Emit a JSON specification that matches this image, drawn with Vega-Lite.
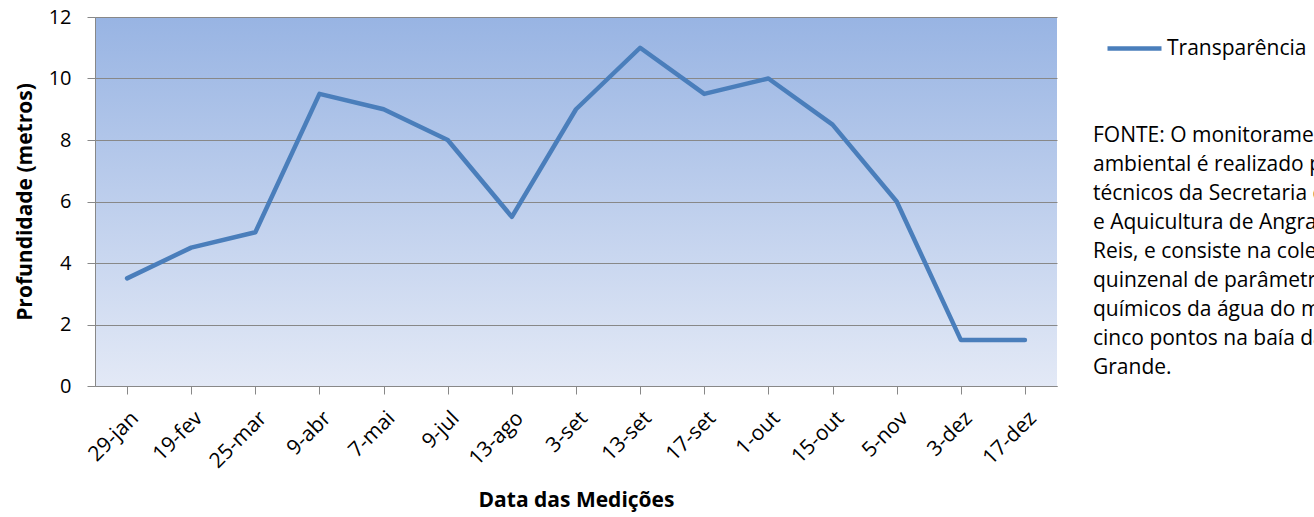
{
  "$schema": "https://vega.github.io/schema/vega-lite/v6.json",
  "padding": {"left": 14, "top": 7, "right": 0, "bottom": 8},
  "background": "white",
  "config": {
    "font": "Open Sans",
    "view": {"stroke": null},
    "concat": {"spacing": 36}
  },
  "datasets": {
    "medicoes": [
      {"data": "29-jan", "profundidade": 3.5, "serie": "Transparência"},
      {"data": "19-fev", "profundidade": 4.5, "serie": "Transparência"},
      {"data": "25-mar", "profundidade": 5, "serie": "Transparência"},
      {"data": "9-abr", "profundidade": 9.5, "serie": "Transparência"},
      {"data": "7-mai", "profundidade": 9, "serie": "Transparência"},
      {"data": "9-jul", "profundidade": 8, "serie": "Transparência"},
      {"data": "13-ago", "profundidade": 5.5, "serie": "Transparência"},
      {"data": "3-set", "profundidade": 9, "serie": "Transparência"},
      {"data": "13-set", "profundidade": 11, "serie": "Transparência"},
      {"data": "17-set", "profundidade": 9.5, "serie": "Transparência"},
      {"data": "1-out", "profundidade": 10, "serie": "Transparência"},
      {"data": "15-out", "profundidade": 8.5, "serie": "Transparência"},
      {"data": "5-nov", "profundidade": 6, "serie": "Transparência"},
      {"data": "3-dez", "profundidade": 1.5, "serie": "Transparência"},
      {"data": "17-dez", "profundidade": 1.5, "serie": "Transparência"}
    ],
    "nota": [
      {"linha": 0, "texto": "FONTE: O monitoramento"},
      {"linha": 1, "texto": "ambiental é realizado por"},
      {"linha": 2, "texto": "técnicos da Secretaria de Pesca"},
      {"linha": 3, "texto": "e Aquicultura de Angra dos"},
      {"linha": 4, "texto": "Reis, e consiste na coleta"},
      {"linha": 5, "texto": "quinzenal de parâmetros físico-"},
      {"linha": 6, "texto": "químicos da água do mar em"},
      {"linha": 7, "texto": "cinco pontos na baía da Ilha"},
      {"linha": 8, "texto": "Grande."}
    ]
  },
  "hconcat": [
    {
      "width": 962,
      "height": 369,
      "view": {
        "stroke": null,
        "fill": {
          "gradient": "linear",
          "x1": 0, "y1": 0, "x2": 0, "y2": 1,
          "stops": [
            {"offset": 0, "color": "#98b4e3"},
            {"offset": 1, "color": "#e3e9f6"}
          ]
        }
      },
      "data": {"name": "medicoes"},
      "mark": {"type": "line", "strokeWidth": 4.5, "strokeCap": "round", "strokeJoin": "round"},
      "encoding": {
        "x": {
          "field": "data",
          "type": "ordinal",
          "sort": null,
          "scale": {"paddingInner": 0, "paddingOuter": 0},
          "axis": {
            "title": "Data das Medições",
            "titleFontSize": 21,
            "titleFontWeight": "bold",
            "titleColor": "black",
            "titlePadding": 13,
            "minExtent": 90,
            "maxExtent": 90,
            "labelAngle": -45,
            "labelFontSize": 21,
            "labelColor": "black",
            "labelPadding": 13,
            "bandPosition": 0,
            "tickSize": 8,
            "tickColor": "#888888",
            "domainColor": "#888888",
            "grid": false
          }
        },
        "y": {
          "field": "profundidade",
          "type": "quantitative",
          "scale": {"domain": [0, 12], "nice": false},
          "axis": {
            "title": "Profundidade (metros)",
            "titleFontSize": 21,
            "titleFontWeight": "bold",
            "titleColor": "black",
            "titlePadding": 14,
            "values": [0, 2, 4, 6, 8, 10, 12],
            "labelFontSize": 20,
            "labelColor": "black",
            "labelPadding": 16,
            "tickSize": 8,
            "tickColor": "#888888",
            "domainColor": "#888888",
            "gridColor": "#888888",
            "gridOpacity": 1,
            "minExtent": 46,
            "maxExtent": 46
          }
        },
        "color": {
          "field": "serie",
          "type": "nominal",
          "scale": {"range": ["#4a7ebb"]},
          "legend": {
            "title": null,
            "orient": "none",
            "legendX": 1010,
            "legendY": 2,
            "symbolType": "stroke",
            "symbolSize": 2916,
            "symbolStrokeWidth": 4.5,
            "labelFontSize": 21,
            "labelColor": "black",
            "labelOffset": 3
          }
        }
      }
    },
    {
      "width": 221,
      "height": 369,
      "data": {"name": "nota"},
      "mark": {"type": "text", "align": "left", "baseline": "middle", "fontSize": 21, "color": "black"},
      "encoding": {
        "x": {"datum": 0, "type": "quantitative", "scale": {"domain": [0, 1]}, "axis": null},
        "y": {
          "field": "linha",
          "type": "quantitative",
          "scale": {"domain": [-4.103, 8.621], "reverse": true, "nice": false, "zero": false},
          "axis": null
        },
        "text": {"field": "texto", "type": "nominal"}
      }
    }
  ]
}
